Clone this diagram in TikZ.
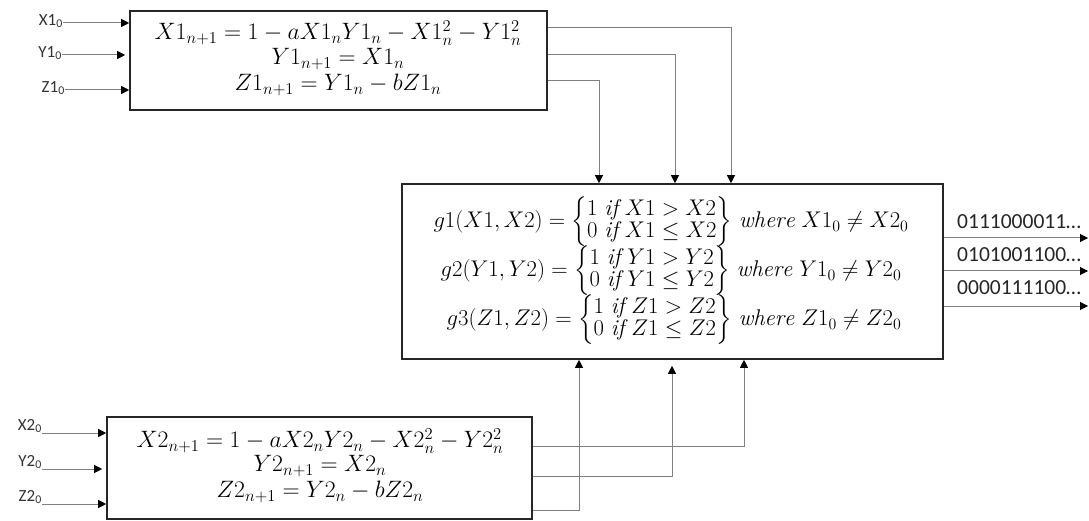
\RequirePackage{fix-cm}
\documentclass[tikz,border=0pt]{standalone}
\usepackage{amsmath}
\usepackage{fontspec}
\newfontfamily\labfont{Carlito}
\usetikzlibrary{arrows.meta}
\begin{document}
\begin{tikzpicture}[x=1pt,y=-1pt,
  box/.style={draw=black!85, line width=1.6pt, inner sep=0pt},
  wire/.style={draw=black!50, line width=1pt},
  arr/.style={wire, -{Triangle[length=8pt,width=8pt,color=black]}},
  lab/.style={font=\labfont\fontsize{17}{20}\selectfont, inner sep=0pt, text=black!80},
  eqA/.style={font=\fontsize{23.7}{28}\selectfont, inner sep=0pt},
  eqB/.style={font=\fontsize{22.7}{24.5}\selectfont\renewcommand{\arraystretch}{0.82}, inner sep=0pt},
  bits/.style={font=\labfont\fontsize{21.5}{25}\selectfont, inner sep=0pt, text=black!85}]
\useasboundingbox (0,0) rectangle (1089,521);
% boxes
\node[box, minimum width=417pt, minimum height=99pt] (top) at (338.5,60.5) {};
\node[box, minimum width=541pt, minimum height=175pt] (mid) at (672.5,271.5) {};
\node[box, minimum width=425pt, minimum height=102pt] (bot) at (319.5,468) {};
% top equations
\node[eqA] (t1) at (338,33) {$X1_{n+1}=1-aX1_nY1_n-X1_n^2-Y1_n^2$};
\node[eqA] (t2) at (338,59) {$Y1_{n+1}=X1_n$};
\node[eqA] (t3) at (338,85) {$Z1_{n+1}=Y1_n-bZ1_n$};
% bottom equations
\node[eqA] (b1) at (320,441) {$X2_{n+1}=1-aX2_nY2_n-X2_n^2-Y2_n^2$};
\node[eqA] (b2) at (320,466) {$Y2_{n+1}=X2_n$};
\node[eqA] (b3) at (320,492) {$Z2_{n+1}=Y2_n-bZ2_n$};
% middle rows
\node[eqB] (g1) at (671,222) {$g1(X1,X2)=\bigg\{\begin{array}{@{}l@{}}1\ \mathit{if}\ X1>X2\\0\ \mathit{if}\ X1\le X2\end{array}\bigg\}\ \mathit{where}\ X1_0\neq X2_0$};
\node[eqB] (g2) at (671,271) {$g2(Y1,Y2)=\bigg\{\begin{array}{@{}l@{}}1\ \mathit{if}\ Y1>Y2\\0\ \mathit{if}\ Y1\le Y2\end{array}\bigg\}\ \mathit{where}\ Y1_0\neq Y2_0$};
\node[eqB] (g3) at (674,320) {$g3(Z1,Z2)=\bigg\{\begin{array}{@{}l@{}}1\ \mathit{if}\ Z1>Z2\\0\ \mathit{if}\ Z1\le Z2\end{array}\bigg\}\ \mathit{where}\ Z1_0\neq Z2_0$};
% top inputs
\node[lab, anchor=east] (x1) at (63,21) {X1\textsubscript{0}};
\node[lab, anchor=east] (y1) at (62,53) {Y1\textsubscript{0}};
\node[lab, anchor=east] (z1) at (65,88) {Z1\textsubscript{0}};
\draw[arr] (x1.east |- 0,23) -- (top.west |- 0,23);
\draw[arr, shorten >=4pt] (y1.east |- 0,55) -- (top.west |- 0,55);
\draw[arr] (z1.east |- 0,90) -- (top.west |- 0,90);
% bottom inputs
\node[lab, anchor=south east] (x2) at (42,433) {X2\textsubscript{0}};
\node[lab, anchor=south east] (y2) at (42,469) {Y2\textsubscript{0}};
\node[lab, anchor=south east] (z2) at (42,504) {Z2\textsubscript{0}};
\draw[arr] (x2.south east) -- (bot.west |- x2.south east);
\draw[arr, shorten >=4pt] (y2.south east) -- (bot.west |- y2.south east);
\draw[arr] (z2.south east) -- (bot.west |- z2.south east);
% top box to middle box
\draw[arr] (top.east |- 0,28) -| (731,0 |- mid.north);
\draw[arr] (top.east |- 0,55) -| (675,0 |- mid.north);
\draw[arr] (top.east |- 0,81) -| (599,0 |- mid.north);
% bottom box to middle box
\draw[arr] (bot.east |- 0,446) -| (744,0 |- mid.south);
\draw[arr, shorten >=6pt] (bot.east |- 0,476) -| (672,0 |- mid.south);
\draw[arr] (bot.east |- 0,510) -| (579,0 |- mid.south);
% outputs
\coordinate (e1) at (1088,238);
\coordinate (e2) at (1088,271);
\coordinate (e3) at (1088,306);
\draw[arr] (mid.east |- e1) -- (e1);
\draw[arr] (mid.east |- e2) -- (e2);
\draw[arr] (mid.east |- e3) -- (e3);
\node[bits, anchor=west] (o1) at (957,222) {0111000011…};
\node[bits, anchor=west] (o2) at (957,255) {0101001100…};
\node[bits, anchor=west] (o3) at (957,288) {0000111100…};
\end{tikzpicture}
\end{document}
